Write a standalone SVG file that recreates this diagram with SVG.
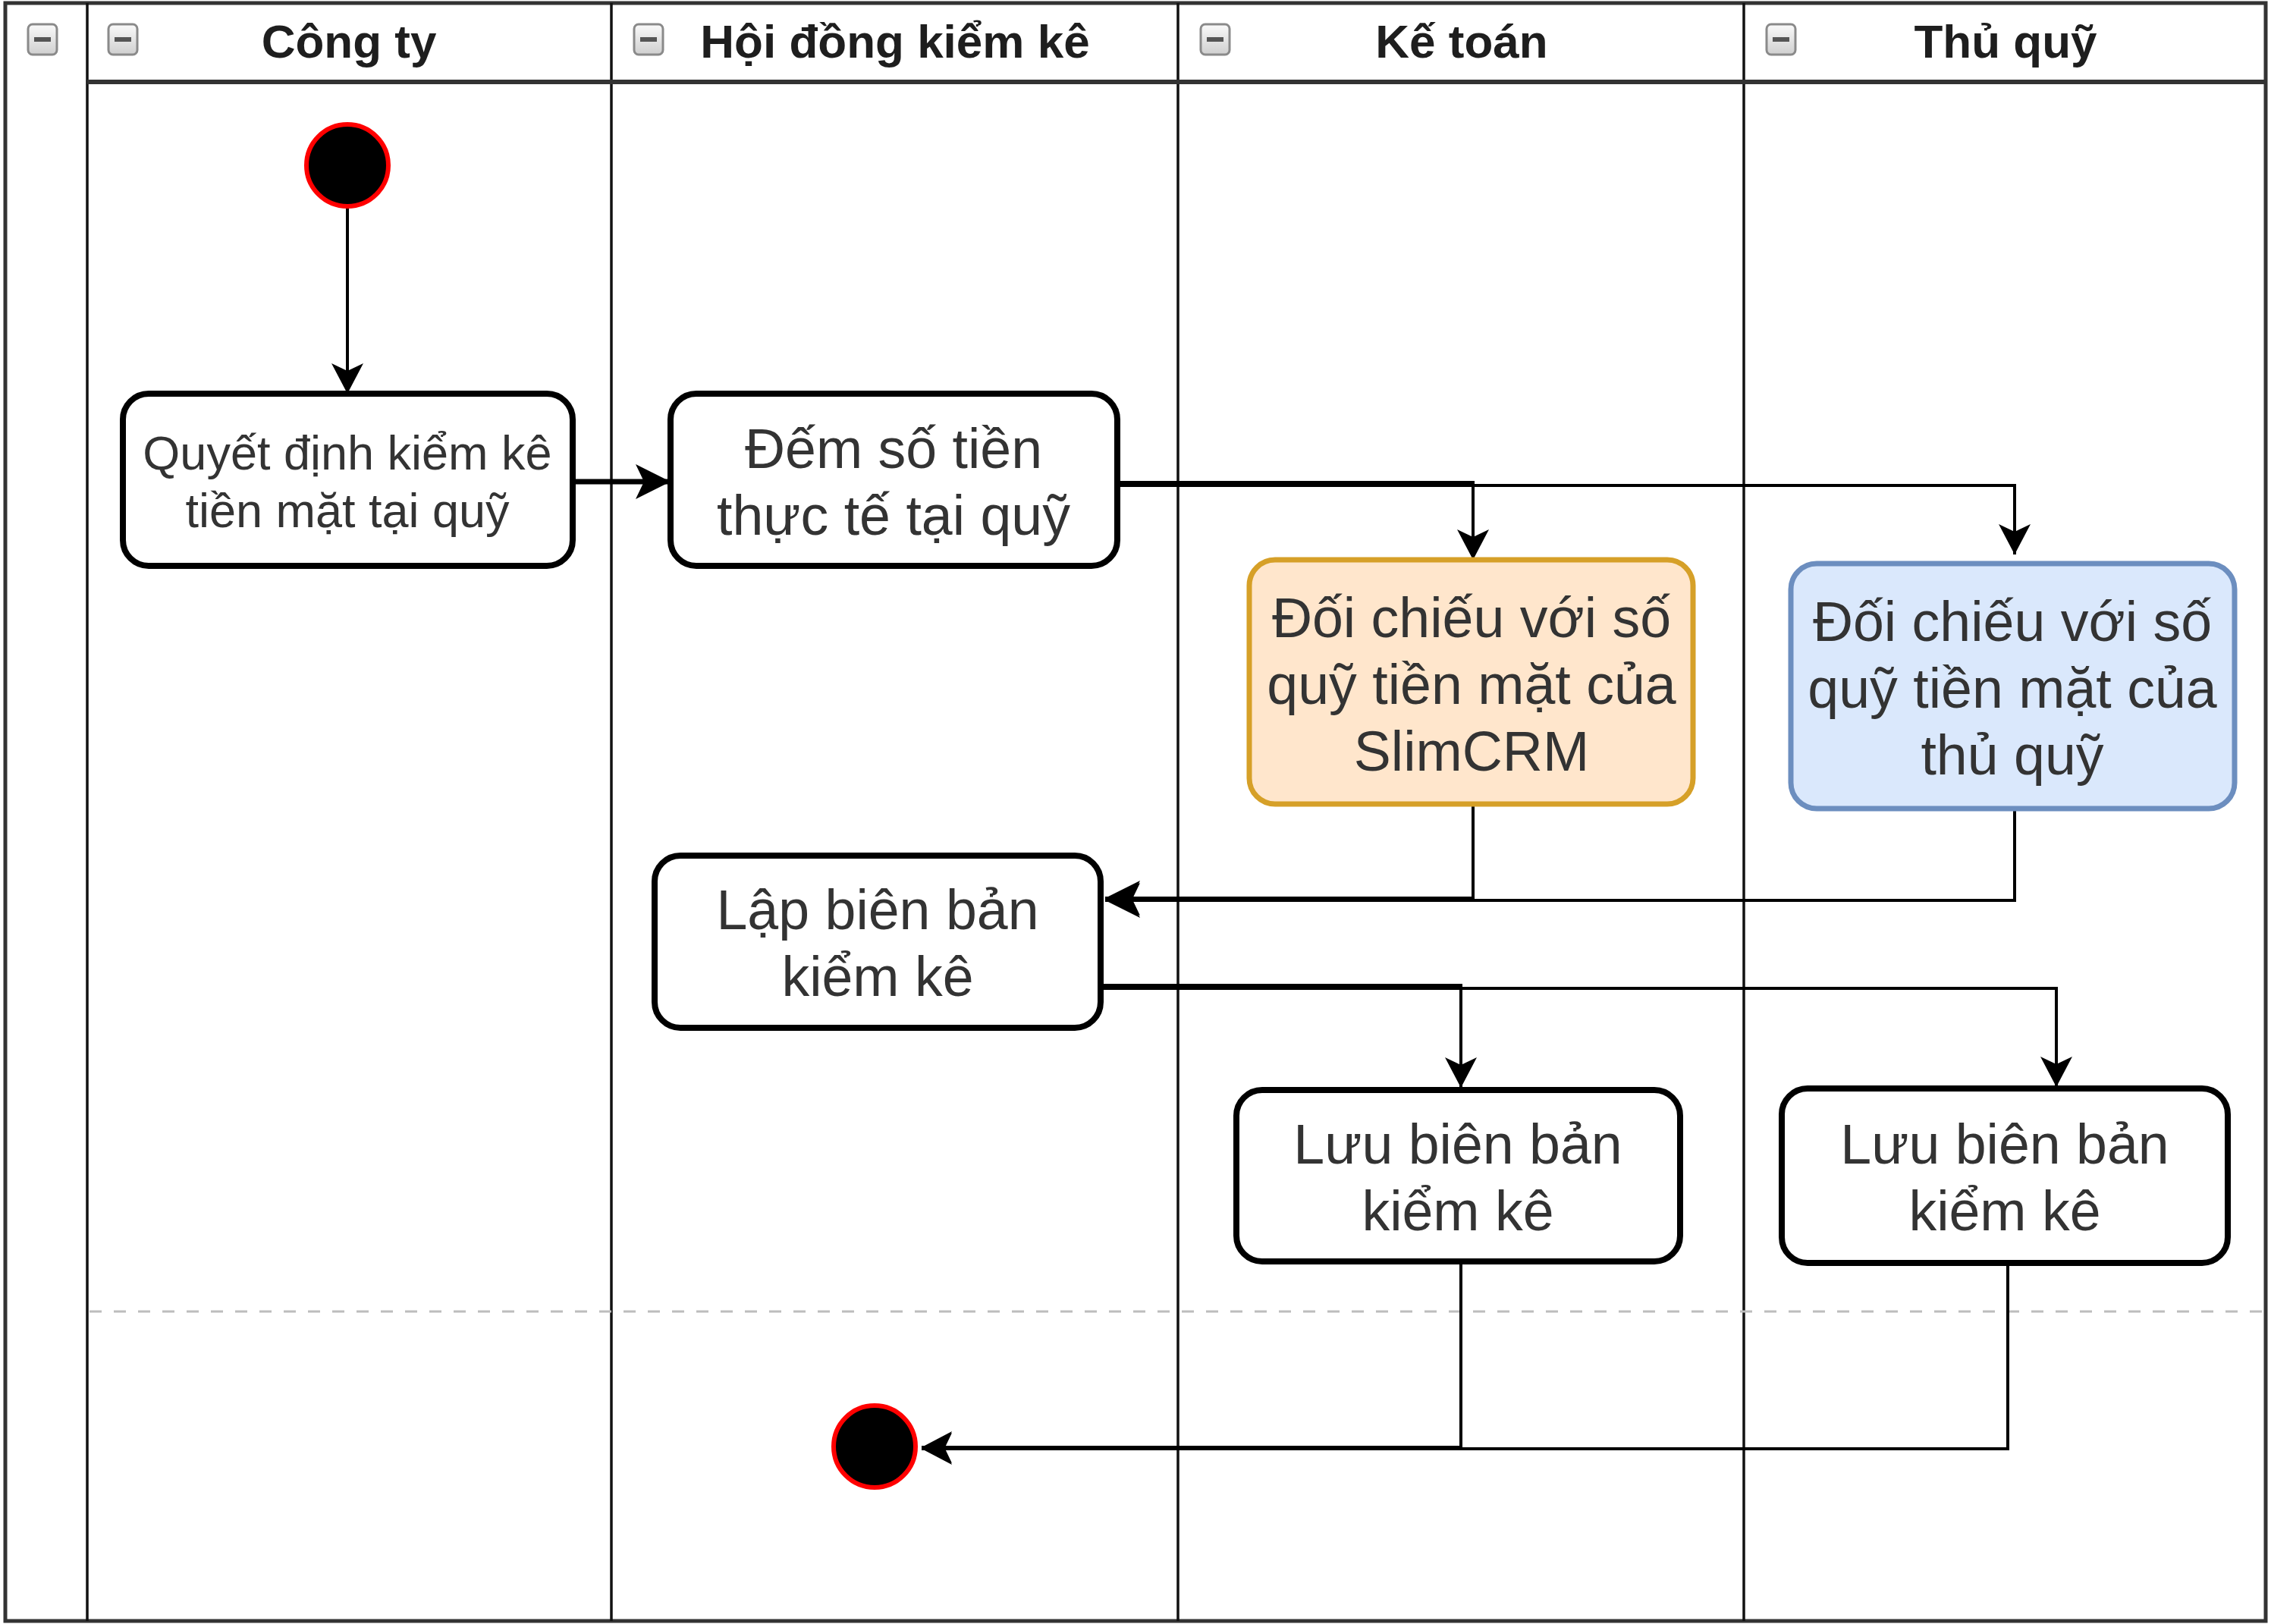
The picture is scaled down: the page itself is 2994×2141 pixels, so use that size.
<svg xmlns="http://www.w3.org/2000/svg" width="2994" height="2141" viewBox="0 0 2994 2141">
<style>
.frame{fill:none;stroke:#333;stroke-width:5}
.lane{fill:none;stroke:#111;stroke-width:3.5}
.hline{fill:none;stroke:#333;stroke-width:6}
.dash{fill:none;stroke:#bdbdbd;stroke-width:3;stroke-dasharray:16 16}
.hdr{font-family:"Liberation Sans",Arial,Helvetica,sans-serif;font-weight:bold;font-size:62px;fill:#1e1e1e;text-anchor:middle}
.act{fill:#fff;stroke:#000;stroke-width:8}
.orange{fill:#ffe6cc;stroke:#d6a028;stroke-width:7}
.blue{fill:#dae8fc;stroke:#6c8ebf;stroke-width:7}
.lbl{font-family:"Liberation Sans",Arial,Helvetica,sans-serif;font-size:73.5px;fill:#333;text-anchor:middle}
.small{font-size:63px}
.edge{fill:none;stroke:#000;stroke-width:4;stroke-linejoin:miter}
.thick{stroke-width:7}
.node-start{fill:#000;stroke:#ff0000;stroke-width:6}
.ibox{fill:url(#ig);stroke:#8a8a8a;stroke-width:3}
.ibar{fill:#555}
</style>
<defs>
<linearGradient id="ig" x1="0" y1="0" x2="0" y2="1">
<stop offset="0" stop-color="#fafafa"/>
<stop offset="1" stop-color="#cfcfcf"/>
</linearGradient>
<marker id="arr" viewBox="0 0 40 42" refX="40" refY="21" markerWidth="40" markerHeight="42" markerUnits="userSpaceOnUse" orient="auto">
<path d="M0,0 L40,21 L0,42 L10,21 Z" fill="#000"/>
</marker>
<marker id="arrL" viewBox="0 0 46 46" refX="46" refY="23" markerWidth="46" markerHeight="46" markerUnits="userSpaceOnUse" orient="auto">
<path d="M0,0 L46,23 L0,46 L11,23 Z" fill="#000"/>
</marker>
</defs>
<rect width="2994" height="2141" fill="#fff"/>

<g id="pool">
<rect class="frame" x="7" y="4" width="2980" height="2133"/>
<line class="lane" x1="115" y1="4" x2="115" y2="2137"/>
<line class="lane" x1="806" y1="4" x2="806" y2="2137"/>
<line class="lane" x1="1553" y1="4" x2="1553" y2="2137"/>
<line class="lane" x1="2299" y1="4" x2="2299" y2="2137"/>
<line class="hline" x1="115" y1="108" x2="2987" y2="108"/>
<line class="dash" x1="118" y1="1729" x2="2984" y2="1729"/>
</g>

<g id="icon-pool"><rect class="ibox" x="37" y="32" width="38" height="40" rx="6"/><rect class="ibar" x="45" y="49" width="22" height="6"/></g>
<g id="lane-congty">
<rect class="ibox" x="143" y="32" width="38" height="40" rx="6"/><rect class="ibar" x="151" y="49" width="22" height="6"/>
<text class="hdr" x="460" y="76">Công ty</text>
</g>
<g id="lane-hoidong">
<rect class="ibox" x="836" y="32" width="38" height="40" rx="6"/><rect class="ibar" x="844" y="49" width="22" height="6"/>
<text class="hdr" x="1180" y="76">Hội đồng kiểm kê</text>
</g>
<g id="lane-ketoan">
<rect class="ibox" x="1583" y="32" width="38" height="40" rx="6"/><rect class="ibar" x="1591" y="49" width="22" height="6"/>
<text class="hdr" x="1927" y="76">Kế toán</text>
</g>
<g id="lane-thuquy">
<rect class="ibox" x="2329" y="32" width="38" height="40" rx="6"/><rect class="ibar" x="2337" y="49" width="22" height="6"/>
<text class="hdr" x="2644" y="76">Thủ quỹ</text>
</g>

<g id="connectors">
<path class="edge" d="M458,274 L458,519" marker-end="url(#arr)"/>
<path class="edge thick" d="M755,635 L884,635" marker-end="url(#arrL)"/>
<path class="edge" d="M1473,636 L1942,636 L1942,738" marker-end="url(#arr)"/>
<path class="edge" d="M1473,640 L2656,640 L2656,731" marker-end="url(#arr)"/>
<path class="edge" d="M1942,1060 L1942,1184 L1457,1184" marker-end="url(#arrL)"/>
<path class="edge" d="M2656,1066 L2656,1187 L1457,1187" marker-end="url(#arrL)"/>
<path class="edge" d="M1451,1299 L1926,1299 L1926,1434" marker-end="url(#arr)"/>
<path class="edge" d="M1451,1303 L2711,1303 L2711,1433" marker-end="url(#arr)"/>
<path class="edge" d="M1926,1663 L1926,1908 L1215,1908" marker-end="url(#arr)"/>
<path class="edge" d="M2647,1665 L2647,1910 L1215,1910" marker-end="url(#arr)"/>
</g>

<g id="start"><circle class="node-start" cx="458" cy="218" r="54"/></g>

<g id="quyet-dinh">
<rect class="act" x="162" y="519" width="593" height="227" rx="34"/>
<text class="lbl small" x="458" y="619">Quyết định kiểm kê</text>
<text class="lbl small" x="458" y="695">tiền mặt tại quỹ</text>
</g>

<g id="dem-so-tien">
<rect class="act" x="884" y="519" width="589" height="227" rx="34"/>
<text class="lbl" x="1178" y="617">Đếm số tiền</text>
<text class="lbl" x="1178" y="705">thực tế tại quỹ</text>
</g>

<g id="doi-chieu-slimcrm">
<rect class="orange" x="1647" y="738" width="585" height="322" rx="34"/>
<text class="lbl" x="1940" y="840">Đối chiếu với số</text>
<text class="lbl" x="1940" y="928">quỹ tiền mặt của</text>
<text class="lbl" x="1940" y="1016">SlimCRM</text>
</g>

<g id="doi-chieu-thuquy">
<rect class="blue" x="2361" y="743" width="585" height="323" rx="34"/>
<text class="lbl" x="2653" y="845">Đối chiếu với số</text>
<text class="lbl" x="2653" y="933">quỹ tiền mặt của</text>
<text class="lbl" x="2653" y="1021">thủ quỹ</text>
</g>

<g id="lap-bien-ban">
<rect class="act" x="863" y="1128" width="588" height="227" rx="34"/>
<text class="lbl" x="1157" y="1225">Lập biên bản</text>
<text class="lbl" x="1157" y="1313">kiểm kê</text>
</g>

<g id="luu-ketoan">
<rect class="act" x="1630" y="1437" width="585" height="226" rx="34"/>
<text class="lbl" x="1922" y="1534">Lưu biên bản</text>
<text class="lbl" x="1922" y="1622">kiểm kê</text>
</g>

<g id="luu-thuquy">
<rect class="act" x="2349" y="1435" width="588" height="230" rx="34"/>
<text class="lbl" x="2643" y="1534">Lưu biên bản</text>
<text class="lbl" x="2643" y="1622">kiểm kê</text>
</g>

<g id="end"><circle class="node-start" cx="1153" cy="1907" r="54"/></g>
</svg>
